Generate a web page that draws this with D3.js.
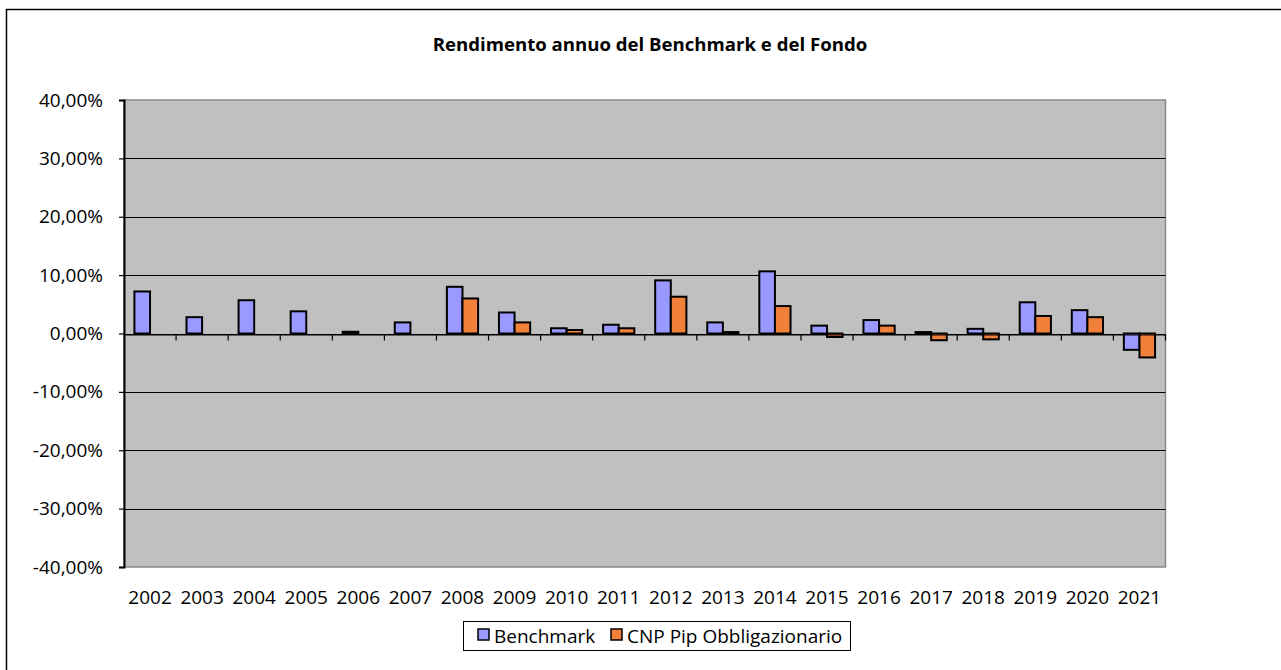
<!DOCTYPE html>
<html>
<head>
<meta charset="utf-8">
<script src="https://cdn.jsdelivr.net/npm/d3@7"></script>
<style>
html,body{margin:0;padding:0;background:#fff;}
svg{display:block;}
text{font-family:"Open Sans","Noto Sans",sans-serif;fill:#000;}
</style>
</head>
<body>
<svg id="c" width="1281" height="670"></svg>
<script>
const years = ["2002","2003","2004","2005","2006","2007","2008","2009","2010","2011","2012","2013","2014","2015","2016","2017","2018","2019","2020","2021"];
const benchmark = [7.2, 2.8, 5.7, 3.8, 0.3, 1.9, 8.0, 3.6, 0.9, 1.5, 9.1, 1.9, 10.65, 1.35, 2.3, 0.25, 0.8, 5.35, 4.0, -2.8];
const fondo = [null, null, null, null, null, null, 6.0, 1.9, 0.6, 0.9, 6.3, 0.25, 4.7, -0.6, 1.35, -1.15, -1.0, 3.0, 2.8, -4.1];
const seriesNames = ["Benchmark", "CNP Pip Obbligazionario"];
const seriesColors = ["#9999FF", "#F0803A"];
const yTicks = [-40, -30, -20, -10, 0, 10, 20, 30, 40];
const title = "Rendimento annuo del Benchmark e del Fondo";

const svg = d3.select("#c");
const L = 124, R = 1165.5, T = 100, B = 567;
const FS = 19;

// outer frame
svg.append("rect").attr("x",6.5).attr("y",9.5).attr("width",1290).attr("height",700)
  .attr("fill","none").attr("stroke","#000").attr("stroke-width",1.5);

const x0 = d3.scaleBand().domain(years).range([L, R]).paddingInner(0).paddingOuter(0);
const x1 = d3.scaleBand().domain(seriesNames).range([0, x0.bandwidth()]).paddingInner(0).paddingOuter(0.668);
const y = d3.scaleLinear().domain([-40, 40]).range([B, T]);

// plot area
svg.append("rect").attr("x",L).attr("y",T).attr("width",R-L).attr("height",B-T)
  .attr("fill","#C0C0C0").attr("stroke","#8a8a8a").attr("stroke-width",1.5);

// gridlines
svg.append("g").selectAll("line").data(yTicks.filter(v=>v>-40 && v<40)).join("line")
  .attr("x1",L).attr("x2",R).attr("y1",d=>Math.round(y(d))+0.5).attr("y2",d=>Math.round(y(d))+0.5)
  .attr("stroke","#000").attr("stroke-width",1);

// bars
const data = [];
years.forEach((yr,i)=>{
  [benchmark[i], fondo[i]].forEach((v,j)=>{
    if (v!==null && v!==undefined) data.push({yr, s:seriesNames[j], v, c:seriesColors[j]});
  });
});
svg.append("g").selectAll("rect").data(data).join("rect")
  .attr("x",d=>x0(d.yr)+x1(d.s))
  .attr("width",x1.bandwidth())
  .attr("y",d=>y(Math.max(0,d.v)))
  .attr("height",d=>Math.abs(y(d.v)-y(0)))
  .attr("fill",d=>d.c).attr("stroke","#000").attr("stroke-width",2);

// x axis ticks at category boundaries (on zero line)
const fmt = v => (v<0?"-":"") + Math.abs(v).toFixed(2).replace(".",",") + "%";
const xAxis = d3.axisBottom(x0).tickSize(0).tickFormat(()=>"");
const gx = svg.append("g").attr("transform",`translate(0,${Math.round(y(0))+0.5})`).call(xAxis);
gx.select(".domain").attr("stroke","#000").attr("stroke-width",1.2);
const bounds = years.map(d=>x0(d)).concat([R]);
gx.selectAll(".bt").data(bounds.slice(1)).join("line").attr("class","bt")
  .attr("x1",d=>d).attr("x2",d=>d).attr("y1",0).attr("y2",6).attr("stroke","#000").attr("stroke-width",1.2);

// x labels
svg.append("g").selectAll("text").data(years).join("text")
  .attr("x",d=>x0(d)+x0.bandwidth()/2).attr("y",604)
  .attr("text-anchor","middle").attr("font-size",FS).text(d=>d);

// y axis
const yAxis = d3.axisLeft(y).tickValues(yTicks).tickSize(5).tickFormat(fmt).tickPadding(16);
const gy = svg.append("g").attr("transform",`translate(${L},0)`).call(yAxis);
gy.select(".domain").attr("stroke","#000").attr("stroke-width",2);
gy.selectAll(".tick line").attr("stroke","#000").attr("stroke-width",1.2);
gy.selectAll(".tick text").attr("font-size",FS).attr("font-family",'"Open Sans","Noto Sans",sans-serif').attr("fill","#000");

// title
svg.append("text").attr("x",650).attr("y",51).attr("text-anchor","middle")
  .attr("font-size",18.6).attr("font-weight","bold").text(title);

// legend
const lg = svg.append("g");
lg.append("rect").attr("x",463.5).attr("y",621.5).attr("width",387).attr("height",29)
  .attr("fill","#fff").attr("stroke","#000").attr("stroke-width",1);
const legX = [478, 611];
seriesNames.forEach((n,i)=>{
  lg.append("rect").attr("x",legX[i]).attr("y",629).attr("width",11).attr("height",11)
    .attr("fill",seriesColors[i]).attr("stroke","#000").attr("stroke-width",1.5);
  lg.append("text").attr("x",legX[i]+16).attr("y",643).attr("font-size",FS).text(n);
});
</script>
</body>
</html>
